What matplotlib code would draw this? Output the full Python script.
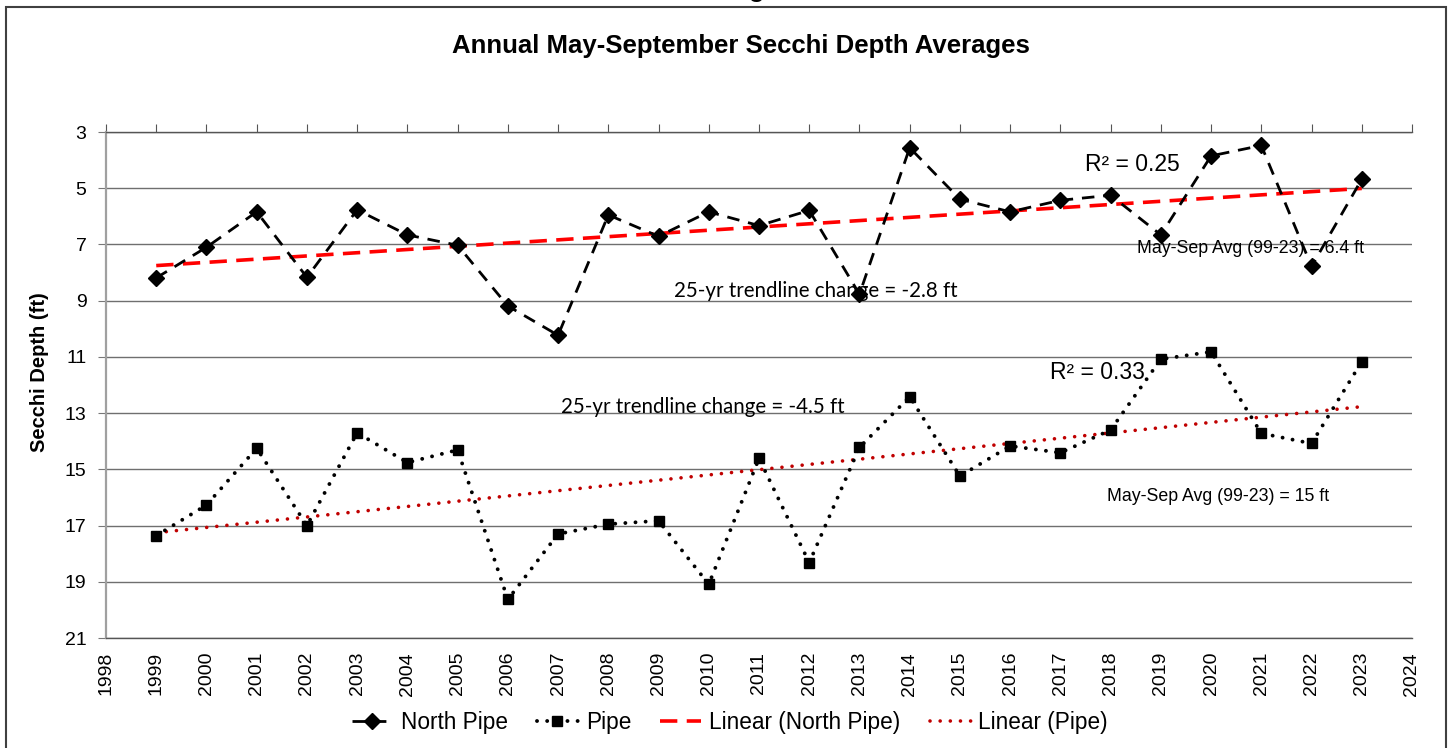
import numpy as np
import matplotlib
matplotlib.use("Agg")
import matplotlib.pyplot as plt
from matplotlib.patches import Rectangle

plt.rcParams['font.family'] = ['Liberation Sans', 'DejaVu Sans']

years = list(range(1999, 2024))
north_pipe = [8.19, 7.10, 5.84, 8.17, 5.77, 6.66, 7.03, 9.19, 10.23, 5.95,
              6.71, 5.84, 6.33, 5.79, 8.77, 3.56, 5.39, 5.84, 5.43, 5.25,
              6.66, 3.85, 3.48, 7.78, 4.68]
pipe = [17.36, 16.27, 14.25, 17.00, 13.70, 14.76, 14.31, 19.63, 17.30, 16.95,
        16.83, 19.09, 14.61, 18.32, 14.22, 12.42, 15.24, 14.17, 14.41, 13.60,
        11.08, 10.82, 13.72, 14.08, 11.17]

title = "Annual May-September Secchi Depth Averages"
ylabel = "Secchi Depth (ft)"
notes = {
    "r2_north": "R² = 0.25",
    "r2_pipe": "R² = 0.33",
    "avg_north": "May-Sep Avg (99-23) = 6.4 ft",
    "avg_pipe": "May-Sep Avg (99-23) = 15 ft",
    "chg_north": "25-yr trendline change = -2.8 ft",
    "chg_pipe": "25-yr trendline change = -4.5 ft",
}


def main():
    fig = plt.figure(figsize=(14.52, 7.48), dpi=100)
    ax = fig.add_axes([106 / 1452, 1 - 638 / 748, 1306 / 1452, 506 / 748])

    x = np.array(years)
    # linear trendlines, like the spreadsheet does
    kn = np.polyfit(x, north_pipe, 1)
    kp = np.polyfit(x, pipe, 1)

    ax.plot(x, north_pipe, color='black', lw=2.0, linestyle=(0, (4.5, 3.2)),
            marker='D', ms=8, label='North Pipe', zorder=4)
    ax.plot(x, pipe, color='black', lw=2.8, linestyle=(0, (0.01, 2.6)),
            dash_capstyle='round', marker='s', ms=7.5, label='Pipe', zorder=4)
    ax.plot(x, np.polyval(kn, x), color='#ff0000', lw=2.6,
            linestyle=(0, (4.8, 2.6)), label='Linear (North Pipe)', zorder=3)
    ax.plot(x, np.polyval(kp, x), color='#c00000', lw=2.6,
            linestyle=(0, (0.01, 2.8)), dash_capstyle='round',
            label='Linear (Pipe)', zorder=3)

    ax.set_xlim(1998, 2024)
    ax.set_ylim(21, 3)
    ax.set_xticks(range(1998, 2025))
    ax.set_xticklabels([str(y) for y in range(1998, 2025)], rotation=90, fontsize=14)
    ax.set_yticks(range(3, 22, 2))
    ax.tick_params(axis='y', labelsize=14, length=6, color='#777777', pad=8)
    ax.tick_params(axis='x', top=True, bottom=False, labeltop=False,
                   labelbottom=True, length=6, color='#555555', pad=4)
    ax.yaxis.grid(True, color='#6f6f6f', lw=1.0)
    ax.set_axisbelow(True)
    ax.spines['right'].set_visible(False)
    ax.spines['left'].set_color('#a0a0a0')
    ax.spines['left'].set_linewidth(1.6)
    for s in ['top', 'bottom']:
        ax.spines[s].set_color('#555555')
        ax.spines[s].set_linewidth(1.0)

    # text annotations
    ax.text(2018.43, 4.17, notes["r2_north"], fontsize=16.5, ha='center', va='center')
    ax.text(2017.73, 11.54, notes["r2_pipe"], fontsize=16.5, ha='center', va='center')
    ax.text(2020.78, 7.13, notes["avg_north"], fontsize=12.8, ha='center', va='center')
    ax.text(2020.14, 15.98, notes["avg_pipe"], fontsize=12.8, ha='center', va='center')
    ax.text(2012.13, 8.66, notes["chg_north"], fontsize=14.8, ha='center',
            va='center', family=['Lato', 'DejaVu Sans'])
    ax.text(2009.89, 12.78, notes["chg_pipe"], fontsize=14.8, ha='center',
            va='center', family=['Lato', 'DejaVu Sans'])

    fig.text(741 / 1452, 1 - 46 / 748, title, fontsize=18.5, fontweight='bold',
             ha='center', va='center')
    fig.text(757 / 1452, 1.004, "g", fontsize=18.5, fontweight='bold',
             ha='center', va='baseline')
    fig.text(40 / 1452, 1 - 372 / 748, ylabel, fontsize=14.5, fontweight='bold',
             rotation=90, ha='center', va='center')

    fig.legend(loc='center', bbox_to_anchor=(730 / 1452, 1 - 722 / 748), ncol=4,
               frameon=False, fontsize=16.3, handlelength=1.8, handletextpad=0.35,
               columnspacing=1.3)

    fig.patches.append(Rectangle((6 / 1452, -0.02), 1440 / 1452, 1.02 - 7 / 748,
                                 transform=fig.transFigure, fill=False,
                                 edgecolor='#404040', lw=1.5))

    fig.savefig("out.png", dpi=100)


if __name__ == "__main__":
    main()
